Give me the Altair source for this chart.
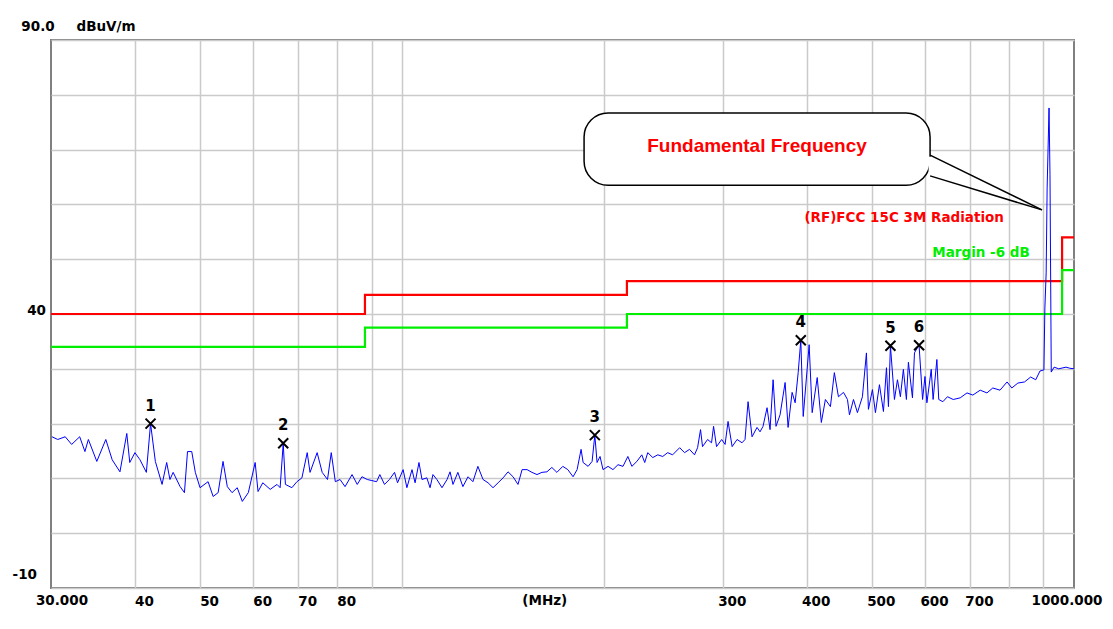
import altair as alt
import pandas as pd

# ---------------- data ----------------
trace_mhz = [
    30.1, 30.7, 31.5, 32.2, 33.1, 33.7, 34.1, 35.1, 36.2, 37.0, 38.0, 38.9, 39.3, 40.0, 40.7,
    41.6, 42.2, 42.9, 43.9, 44.6, 45.1, 45.6, 46.7, 47.4, 47.9, 48.6, 49.2, 50.0, 51.4, 52.3,
    53.2, 54.1, 54.9, 55.8, 56.8, 57.8, 59.0, 60.4, 61.0, 62.0, 63.6, 65.1, 65.8, 66.5, 67.0,
    68.5, 69.7, 70.9, 72.2, 72.9, 74.7, 76.0, 77.4, 78.4, 79.5, 80.8, 82.2, 84.2, 85.7, 87.1,
    88.7, 90.1, 91.6, 92.6, 94.1, 95.7, 97.4, 98.4, 100.3, 101.6, 103.4, 104.5, 105.9, 107.0, 108.8,
    110.0, 111.1, 112.6, 114.6, 116.6, 117.8, 119.0, 121.0, 123.1, 125.3, 127.4, 129.6, 131.9, 134.2, 136.5,
    138.9, 141.3, 143.7, 146.2, 148.7, 150.8, 153.4, 156.0, 158.7, 161.4, 164.2, 167.0, 169.9, 173.4, 176.4,
    179.6, 182.1, 184.6, 185.9, 189.1, 191.7, 193.5, 195.0, 197.0, 199.0, 202.5, 205.9, 209.5, 213.1, 216.7,
    219.7, 223.5, 227.3, 229.6, 232.0, 236.0, 240.1, 244.2, 248.4, 252.6, 258.8, 263.2, 267.7, 272.3, 275.2,
    278.0, 279.9, 284.8, 288.7, 290.7, 293.7, 298.9, 302.4, 305.5, 309.8, 315.1, 320.5, 323.8, 327.2, 331.7,
    337.4, 340.9, 344.4, 349.2, 352.8, 356.5, 360.1, 365.1, 371.5, 375.3, 380.5, 384.5, 388.5, 392.0, 395.3,
    403.4, 407.6, 414.7, 420.6, 426.5, 433.9, 439.8, 446.0, 453.8, 460.0, 463.2, 469.6, 476.0, 484.2, 490.9,
    494.3, 501.1, 506.3, 513.3, 520.4, 525.8, 529.4, 533.0, 540.4, 546.0, 551.5, 557.2, 563.0, 566.9, 574.8,
    578.8, 584.7, 588.0, 595.1, 600, 604, 613, 617, 625, 629, 638, 648, 661, 677, 693,
    707, 725, 742, 757, 776, 795, 808, 825, 844, 862, 877, 890, 902, 905, 909,
    912, 918, 921, 925, 934, 949, 973, 986, 1000,
]
trace_dbuv = [
    17.6, 17.1, 17.6, 16.2, 17.6, 14.9, 17.1, 13.1, 17.1, 13.4, 11.2, 18.2, 12.9, 14.7, 13.4,
    11.1, 20.0, 13.1, 8.9, 12.9, 9.8, 11.1, 8.5, 7.4, 14.9, 14.9, 11.1, 8.3, 9.4, 6.7,
    7.4, 13.1, 8.5, 7.4, 8.3, 5.8, 7.4, 12.9, 7.6, 9.2, 8.0, 8.9, 8.3, 16.4, 8.9,
    8.3, 9.4, 10.1, 14.7, 11.1, 14.7, 11.1, 9.8, 14.7, 9.4, 9.8, 8.5, 10.7, 8.9, 10.3,
    9.8, 9.6, 9.4, 10.7, 8.9, 9.8, 11.1, 9.2, 11.6, 8.3, 11.6, 9.2, 12.9, 9.8, 10.1,
    8.3, 10.7, 9.8, 8.3, 9.8, 11.2, 8.9, 11.1, 8.5, 10.3, 9.4, 12.2, 9.8, 9.2, 8.3,
    9.2, 10.1, 11.2, 10.3, 8.9, 11.6, 11.6, 11.1, 10.7, 11.1, 11.2, 12.0, 11.1, 12.2, 11.6,
    10.3, 11.6, 15.3, 12.9, 12.2, 13.1, 17.9, 12.9, 14.0, 11.6, 12.2, 11.6, 12.5, 12.2, 14.0,
    12.2, 13.1, 14.3, 12.9, 14.7, 13.8, 14.3, 14.0, 14.7, 14.3, 15.6, 14.7, 15.3, 14.3, 15.6,
    18.9, 15.8, 17.1, 16.5, 19.5, 15.8, 17.1, 16.2, 20.4, 15.8, 17.1, 16.5, 17.1, 24.0, 17.6,
    19.3, 18.5, 19.5, 22.9, 18.9, 28.0, 19.5, 21.6, 27.5, 19.3, 25.7, 23.8, 29.3, 35.2, 21.3,
    34.4, 22.0, 28.4, 20.2, 24.4, 23.1, 29.3, 24.9, 25.7, 24.4, 21.6, 24.4, 22.0, 24.9, 32.9,
    22.6, 26.2, 22.0, 27.1, 22.2, 30.2, 23.1, 34.2, 24.4, 28.0, 24.9, 29.9, 24.4, 31.2, 24.7,
    32.9, 33.9, 34.3, 24.4, 28.6, 23.8, 29.9, 24.4, 31.7, 24.4, 24.0, 24.9, 24.4, 24.7, 25.6,
    25.2, 26.1, 25.6, 26.5, 26.1, 27.6, 26.5, 27.4, 27.6, 28.5, 28.0, 29.6, 29.8, 41.1, 47.5,
    63.0, 77.6, 65.4, 29.4, 30.3, 30.0, 30.3, 30.1, 30.0,
]

limit_mhz = [30, 88, 88, 216, 216, 960, 960, 1000]
limit_dbuv = [40, 40, 43.5, 43.5, 46, 46, 54, 54]
margin_db = 6

marker_ids = ["1", "2", "3", "4", "5", "6"]
marker_mhz = [42.2, 66.5, 193.5, 392.0, 533.0, 588.0]
marker_dbuv = [20.0, 16.4, 17.9, 35.2, 34.2, 34.3]

x_grid = [40, 50, 60, 70, 80, 90, 100, 200, 300, 400, 500, 600, 700, 800, 900]
x_labeled = [40, 50, 60, 70, 80, 300, 400, 500, 600, 700]
y_grid = [-10, 0, 10, 20, 30, 40, 50, 60, 70, 80, 90]

# callout / annotation anchors in data units (MHz, dBuV/m)
box_mhz = [186.5, 610.6]
box_dbuv = [63.5, 76.7]
tail_tip = (896, 59.0)
tail_attach_dbuv = [69.0, 65.2]

W, H = 1023, 548
FONT = "DejaVu Sans"

xs = alt.Scale(type="log", domain=[30, 1000], nice=False)
ys = alt.Scale(domain=[-10, 90], nice=False)

lbl_expr = "indexof([" + ",".join(str(v) for v in x_labeled) + "], datum.value) >= 0 ? format(datum.value, 'd') : ''"

X_AXIS = alt.Axis(
    values=x_grid, labelExpr=lbl_expr, grid=True, gridColor="#cacaca", gridWidth=1.5,
    ticks=False, domain=False, title=None, labelFont=FONT, labelFontWeight="bold",
    labelFontSize=13.5, labelColor="black", labelPadding=13, labelBaseline="middle",
    labelOffset=9, labelOverlap=False)
Y_AXIS = alt.Axis(values=y_grid, labels=False, ticks=False, domain=False, grid=True,
                  gridColor="#cacaca", gridWidth=1.5, title=None)


def X(field):
    return alt.X(field, scale=xs, axis=X_AXIS)


def Y(field):
    return alt.Y(field, scale=ys, axis=Y_AXIS)


# ---------------- layers ----------------
trace_df = pd.DataFrame({"mhz": trace_mhz, "dbuv": trace_dbuv, "i": range(len(trace_mhz))})
trace = alt.Chart(trace_df).mark_line(color="#0000ff", strokeWidth=1, clip=True).encode(
    x=X("mhz:Q"), y=Y("dbuv:Q"), order="i:Q")

lim_df = pd.DataFrame({"mhz": limit_mhz, "red": limit_dbuv,
                       "green": [v - margin_db for v in limit_dbuv], "i": range(len(limit_mhz))})
red = alt.Chart(lim_df).mark_line(color="#ff0000", strokeWidth=2.2).encode(
    x=X("mhz:Q"), y=Y("red:Q"), order="i:Q")
green = alt.Chart(lim_df).mark_line(color="#00ee00", strokeWidth=2.2).encode(
    x=X("mhz:Q"), y=Y("green:Q"), order="i:Q")

mk_df = pd.DataFrame({"id": marker_ids, "mhz": marker_mhz, "dbuv": marker_dbuv})
mk_x = alt.Chart(mk_df).mark_point(shape="M-1,-1L1,1M-1,1L1,-1", size=100, filled=False,
                                   color="black", strokeWidth=2, opacity=1).encode(
    x=X("mhz:Q"), y=Y("dbuv:Q"))
mk_t = alt.Chart(mk_df).mark_text(font=FONT, fontWeight="bold", fontSize=15, color="black",
                                  baseline="alphabetic", dy=-13).encode(
    x=X("mhz:Q"), y=Y("dbuv:Q"), text="id:N")


def text_at(mhz, dbuv, txt, **kw):
    df = pd.DataFrame({"mhz": [mhz], "dbuv": [dbuv], "t": [txt]})
    return alt.Chart(df).mark_text(**kw).encode(x=X("mhz:Q"), y=Y("dbuv:Q"), text="t:N")


def text_bottom(mhz, txt, **kw):
    df = pd.DataFrame({"mhz": [mhz], "t": [txt]})
    return alt.Chart(df).mark_text(**kw).encode(x=X("mhz:Q"), y=alt.value(H + 13), text="t:N")


lab = dict(font=FONT, fontWeight="bold", fontSize=13.5, color="black", baseline="middle")
y_top_lab = text_at(30, 90, "90.0", align="center", dx=-13, dy=-13.5, **lab)
y_unit_lab = text_at(30, 90, "dBuV/m", align="center", dx=55, dy=-13.5, **lab)
y40 = text_at(30, 40, "40", align="right", dx=-5, dy=-3.5, **lab)
ym10 = text_at(30, -10, "-10", align="right", dx=-14, dy=-13.5, **lab)
x30 = text_bottom(30, "30.000", align="center", dx=11, **lab)
x1000 = text_bottom(1000, "1000.000", align="center", dx=-7, **lab)
xunit = text_bottom(163, "(MHz)", align="center", **lab)

rf_lab = text_at(558.7, 57.5, "(RF)FCC 15C 3M Radiation", align="center", baseline="middle",
                 font=FONT, fontWeight="bold", fontSize=13.5, color="#ff0000")
mg_lab = text_at(727, 51.1, "Margin -6 dB", align="center", baseline="middle",
                 font=FONT, fontWeight="bold", fontSize=13.5, color="#00ee00")

box_df = pd.DataFrame({"x0": [box_mhz[0]], "x1": [box_mhz[1]], "y0": [box_dbuv[0]], "y1": [box_dbuv[1]]})
box = alt.Chart(box_df).mark_rect(fill="white", stroke="black", strokeWidth=1.5, cornerRadius=24).encode(
    x=X("x0:Q"), x2="x1:Q", y=Y("y0:Q"), y2="y1:Q")
gap_df = pd.DataFrame({"x": [box_mhz[1]], "y0": [tail_attach_dbuv[1] + 0.3], "y1": [tail_attach_dbuv[0] - 0.3]})
gap = alt.Chart(gap_df).mark_rule(color="white", strokeWidth=3).encode(
    x=X("x:Q"), y=Y("y0:Q"), y2="y1:Q")
tail_df = pd.DataFrame({"x0": [box_mhz[1]] * 2, "y0": tail_attach_dbuv,
                        "x1": [tail_tip[0]] * 2, "y1": [tail_tip[1]] * 2})
tail = alt.Chart(tail_df).mark_rule(color="black", strokeWidth=1.5).encode(
    x=X("x0:Q"), x2="x1:Q", y=Y("y0:Q"), y2="y1:Q")
fund = text_at(337.4, 70.7, "Fundamental Frequency", align="center", baseline="middle",
               font="Liberation Sans", fontWeight="bold", fontSize=19, color="#ff0000")

chart = alt.layer(
    red, green, trace, mk_x, mk_t,
    y_top_lab, y_unit_lab, y40, ym10, x30, x1000, xunit,
    rf_lab, mg_lab, box, gap, tail, fund,
).properties(
    width=W, height=H,
    autosize=alt.AutoSizeParams(type="none"),
    padding={"left": 43, "top": 32, "right": 31, "bottom": 33},
    background="white",
).configure_view(stroke="#808080", strokeWidth=2)

chart.save("out.html", embed_options={"renderer": "svg", "actions": False})
